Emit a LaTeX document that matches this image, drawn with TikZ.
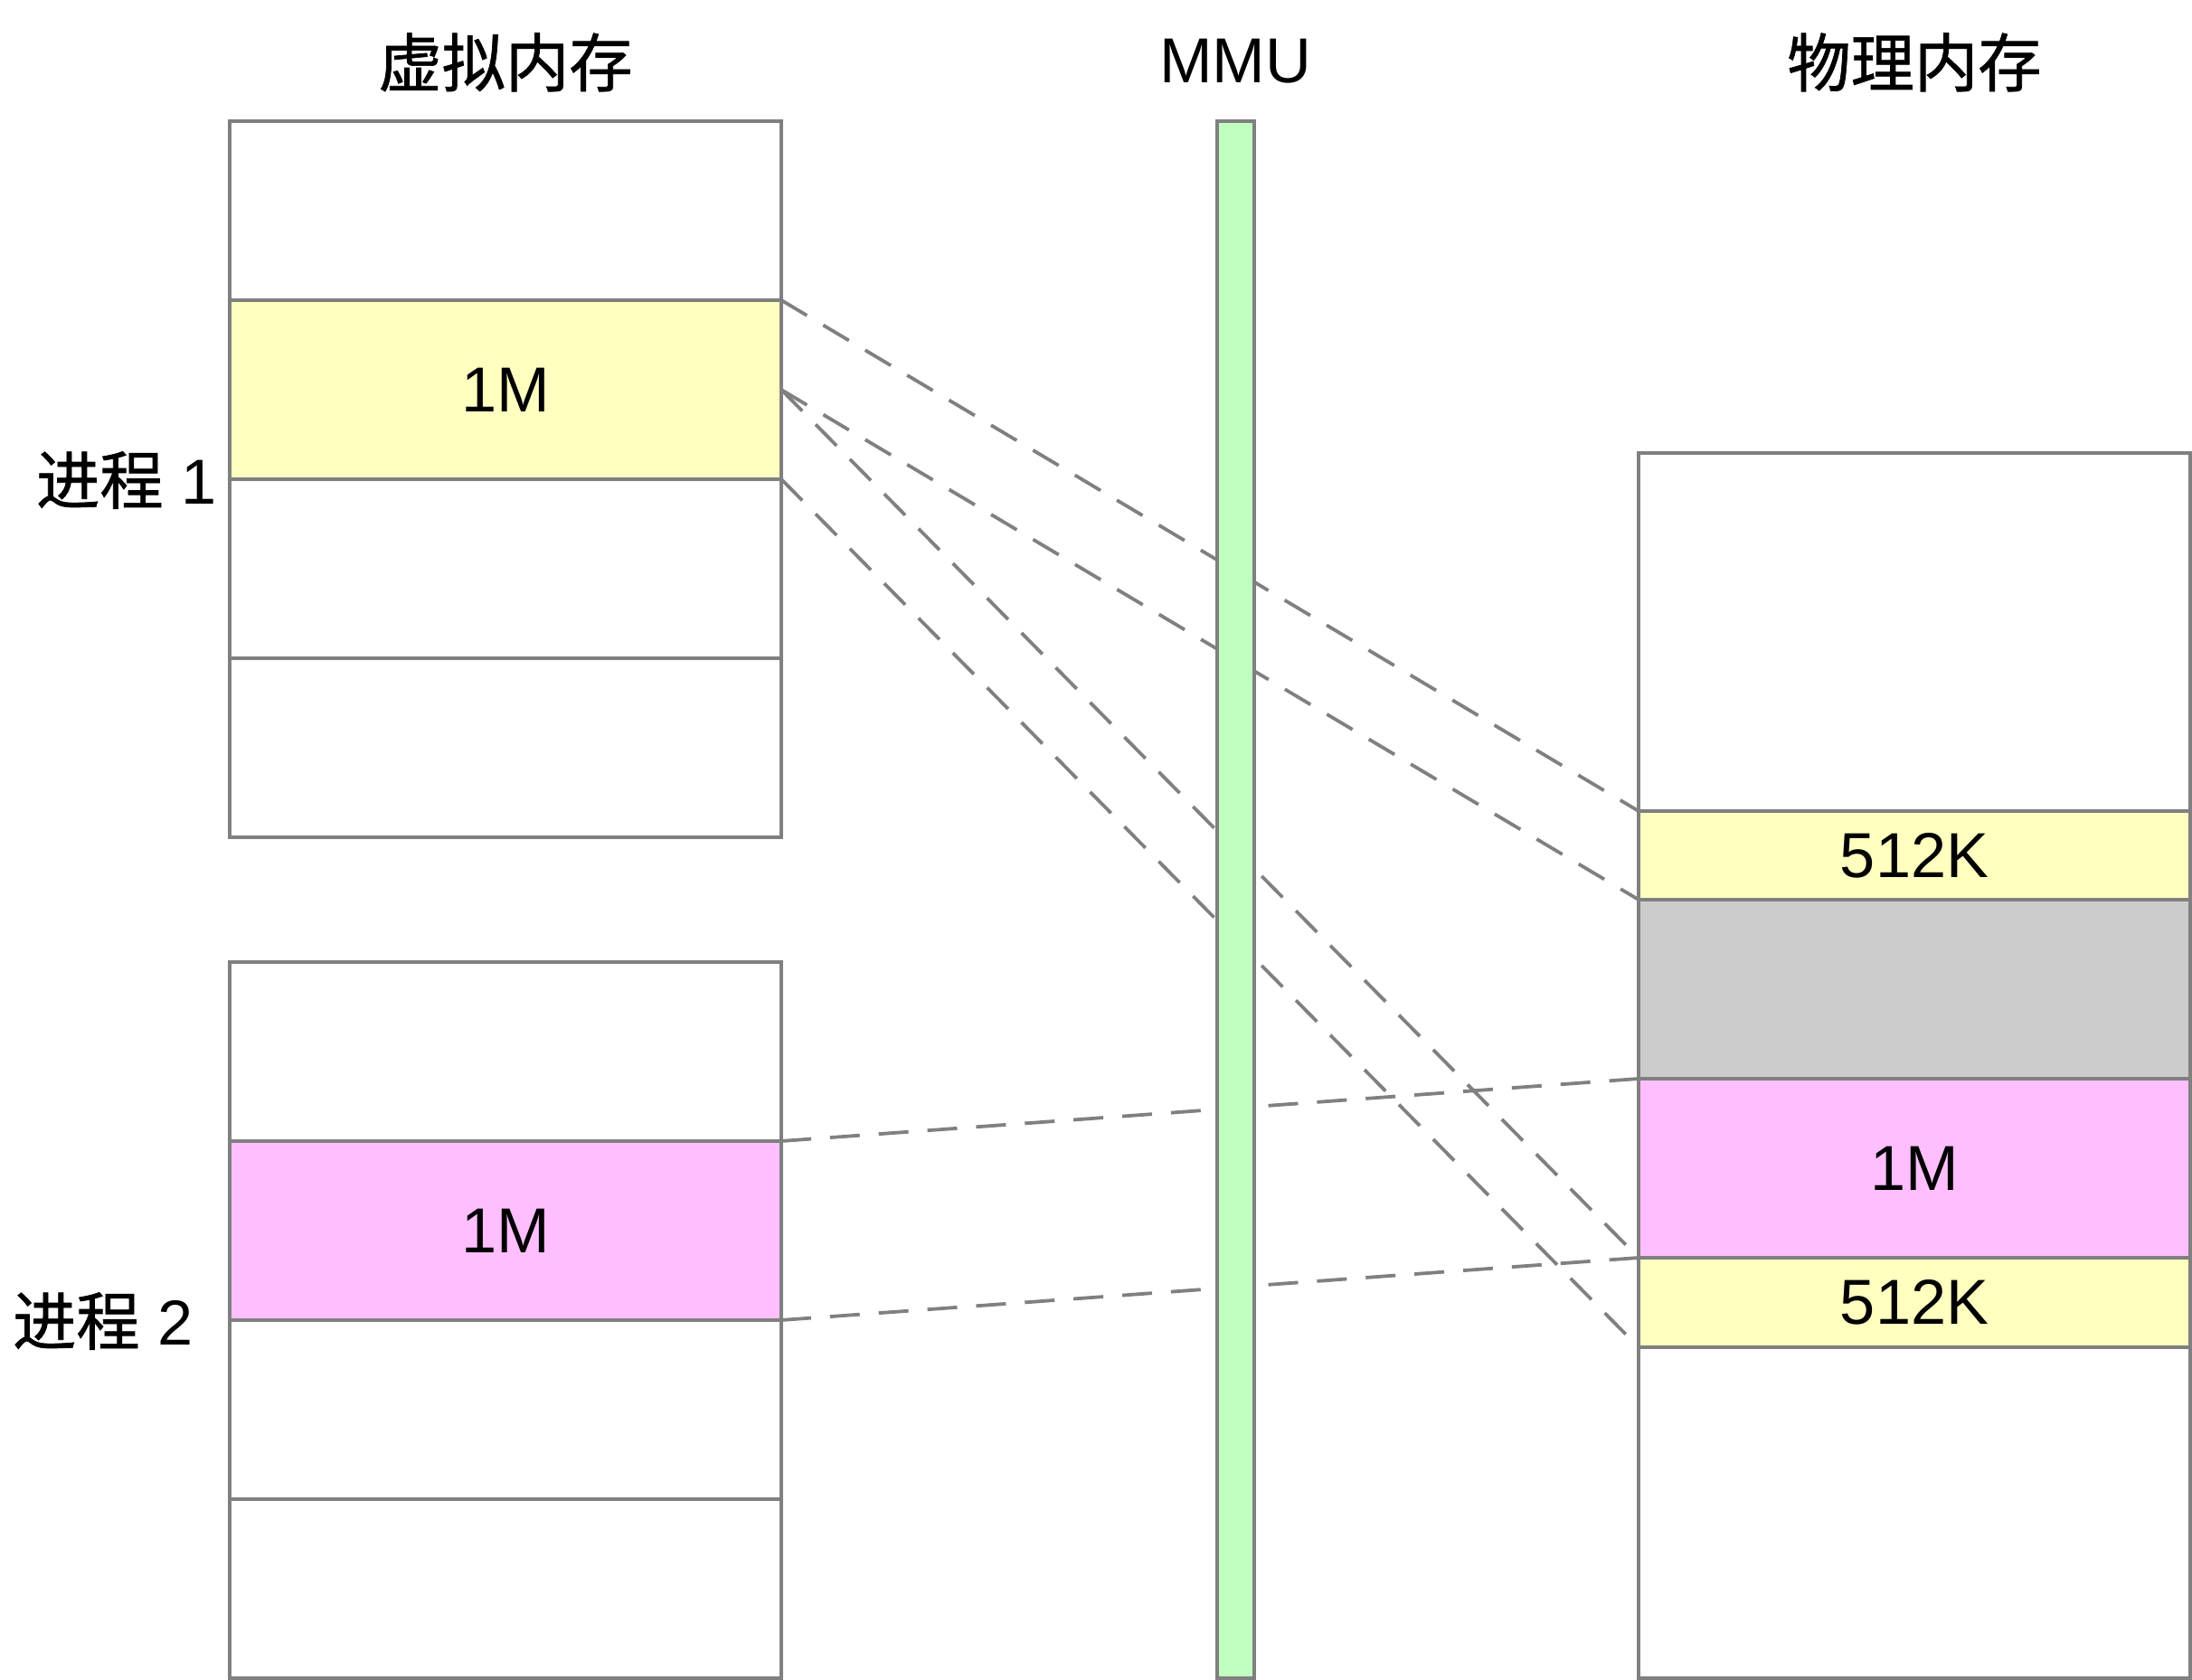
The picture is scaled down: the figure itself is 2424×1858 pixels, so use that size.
\documentclass[tikz,border=0pt]{standalone}
\usepackage{fontspec}
\setmainfont{Liberation Sans}
\newfontfamily\cjk[FakeBold=1.0]{Noto Sans CJK SC}
\definecolor{edgegray}{RGB}{128,128,128}
\definecolor{cyellow}{RGB}{255,255,192}
\definecolor{cpink}{RGB}{255,191,255}
\definecolor{cgray}{RGB}{204,204,204}
\definecolor{cgreen}{RGB}{192,255,192}
\begin{document}
\begin{tikzpicture}[x=0.1mm,y=-0.1mm,
  cell/.style={draw=edgegray, line width=0.34mm, rectangle, anchor=north west,
    outer sep=0pt, inner sep=0pt, minimum width=61mm,
    font=\fontsize{20}{24}\selectfont},
  mapline/.style={draw=edgegray, line width=0.38mm, dash pattern=on 3.3mm off 2.1mm},
  title/.style={font=\fontsize{20}{24}\selectfont, inner sep=0pt}]
\useasboundingbox (0,0) rectangle (2424,1858);

% titles
\node[title] (tv) at (559,69) {\cjk 虚拟内存};
\node[title] (tm) at (1366,68) {MMU};
\node[title] (tp) at (2117,69) {\cjk 物理内存};

% process labels
\node[title, anchor=east] (lab1) at (240,531) {{\cjk 进程} 1};
\node[title, anchor=east] (lab2) at (214,1461) {{\cjk 进程} 2};

% virtual memory, process 1
\node[cell, minimum height=19.8mm] (v11) at (254,134) {};
\node[cell, minimum height=19.8mm, fill=cyellow] (v12) at (254,332) {1M};
\node[cell, minimum height=19.8mm] (v13) at (254,530) {};
\node[cell, minimum height=19.8mm] (v14) at (254,728) {};

% virtual memory, process 2
\node[cell, minimum height=19.8mm] (v21) at (254,1064) {};
\node[cell, minimum height=19.8mm, fill=cpink] (v22) at (254,1262) {1M};
\node[cell, minimum height=19.8mm] (v23) at (254,1460) {};
\node[cell, minimum height=19.8mm] (v24) at (254,1658) {};

% physical memory
\node[cell, minimum height=39.6mm] (p0) at (1812,501) {};
\node[cell, minimum height=9.8mm, fill=cyellow] (p1) at (1812,897) {512K};
\node[cell, minimum height=19.8mm, fill=cgray] (p2) at (1812,995) {};
\node[cell, minimum height=19.8mm, fill=cpink] (p3) at (1812,1193) {1M};
\node[cell, minimum height=9.9mm, fill=cyellow] (p4) at (1812,1391) {512K};
\node[cell, minimum height=36.6mm] (p5) at (1812,1490) {};

% mappings
\draw[mapline] (v12.north east) -- (p1.north west);
\draw[mapline] (v12.east) -- (p1.south west);
\draw[mapline] (v12.east) -- (p3.south west);
\draw[mapline] (v12.south east) -- (p4.south west);
\draw[mapline] (v22.north east) -- (p3.north west);
\draw[mapline] (v22.south east) -- (p3.south west);

% MMU bar
\node[draw=edgegray, fill=cgreen, line width=0.34mm, rectangle, anchor=north west,
  outer sep=0pt, inner sep=0pt, minimum width=4.1mm, minimum height=172.2mm] (mmu) at (1346,134) {};
\end{tikzpicture}
\end{document}
